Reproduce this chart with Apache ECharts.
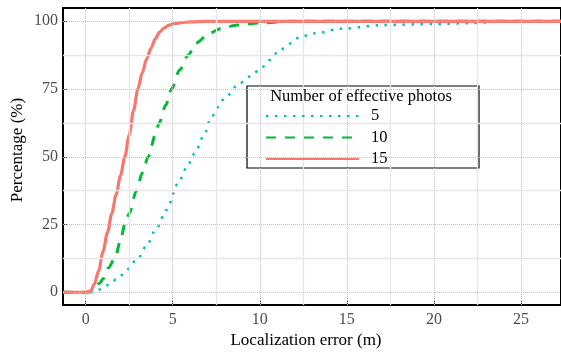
<!DOCTYPE html>
<html>
<head>
<meta charset="utf-8">
<script src="https://cdn.jsdelivr.net/npm/echarts@6/dist/echarts.min.js"></script>
<style>
  html, body { margin: 0; padding: 0; background: #fff; }
  #chart { width: 561px; height: 352px; }
</style>
</head>
<body>
<div id="chart"></div>
<script>
// tick values
const xTicks = [0, 5, 10, 15, 20, 25];
const xMinor = [2.5, 7.5, 12.5, 17.5, 22.5];
const yTicks = [0, 25, 50, 75, 100];
const yMinor = [12.5, 37.5, 62.5, 87.5];

const seriesNames = ["5", "10", "15"];

// [error (m), percentage]
const photos5 = [
  [-1.3, 0], [0, 0], [0.44, 0], [0.8, 1], [1.3, 2.7], [2.06, 6.4], [2.96, 11.9],
  [3.46, 16.8], [4.07, 23.6], [4.64, 30.4], [5.31, 40.2], [5.8, 46], [6.27, 51.3],
  [6.8, 58], [7.22, 64.8], [7.89, 71], [8.85, 77.1], [9.42, 79.6], [10.18, 83.2],
  [10.57, 85.7], [11.14, 89.4], [11.81, 91.9], [12.29, 94.3], [13.25, 95.6],
  [14.58, 97.2], [17.06, 98.6], [19.9, 99], [22, 99.3], [24.3, 100], [27.3, 100]
];
const photos10 = [
  [-1.3, 0], [0, 0], [0.3, 0.2], [0.5, 1], [0.8, 3.3], [1.0, 5], [1.3, 9],
  [1.68, 12.5], [2.0, 19], [2.25, 25], [2.5, 29], [2.92, 37.5], [3.25, 44],
  [3.6, 50], [4.0, 58], [4.22, 62.5], [4.6, 69], [4.93, 75], [5.4, 82],
  [5.88, 87.5], [6.36, 92], [7.1, 95.6], [7.8, 97.4], [8.7, 98.6], [10, 99.4],
  [12, 100], [27.3, 100]
];
const photos15 = [
  [-1.3, 0], [0, 0], [0.3, 0.5], [0.5, 3], [0.75, 8], [1.0, 15], [1.25, 22],
  [1.5, 29], [1.75, 36], [2.0, 43], [2.25, 50], [2.5, 58], [2.75, 67], [3.0, 75],
  [3.25, 81], [3.5, 86], [3.75, 90], [4.0, 93.5], [4.25, 96], [4.5, 97.5],
  [4.75, 98.5], [5, 99], [5.5, 99.5], [6, 99.8], [7, 100], [27.3, 100]
];

const serif = "Liberation Serif";
const labelStyle = { fontFamily: serif, fontSize: 16, color: "#4d4d4d" };

const majorLine = { color: "#c4c4c4", width: 1, type: "dotted" };
const minorLine = { color: "#e6e6e6", width: 1.3, type: "solid" };

const gridLines = [
  ...xMinor.map((v) => ({ xAxis: v, lineStyle: minorLine })),
  ...yMinor.map((v) => ({ yAxis: v, lineStyle: minorLine })),
  ...xTicks.map((v) => ({ xAxis: v, lineStyle: majorLine })),
  ...yTicks.map((v) => ({ yAxis: v, lineStyle: majorLine })),
];

const option = {
  animation: false,
  backgroundColor: "#fff",
  grid: {
    left: 63,
    right: -1,
    top: 8,
    bottom: 47,
    show: true,
    borderColor: "#000",
    borderWidth: 2,
  },
  xAxis: {
    type: "value",
    min: -1.3,
    max: 27.3,
    splitLine: { show: false },
    axisLine: { onZero: false, lineStyle: { color: "#000", width: 2 } },
    axisTick: {
      inside: true,
      length: 4,
      customValues: xTicks,
      lineStyle: { color: "#333", width: 1 },
    },
    axisLabel: { ...labelStyle, margin: 7, customValues: xTicks },
  },
  yAxis: {
    type: "value",
    min: -4.7,
    max: 104.9,
    splitLine: { show: false },
    axisLine: { onZero: false, lineStyle: { color: "#000", width: 2 } },
    axisTick: {
      inside: true,
      length: 4,
      customValues: yTicks,
      lineStyle: { color: "#333", width: 1 },
    },
    axisLabel: { ...labelStyle, margin: 5, customValues: yTicks },
  },
  legend: {
    data: seriesNames,
    orient: "vertical",
    left: 265,
    top: 107,
    padding: 0,
    itemWidth: 93,
    itemHeight: 16,
    itemGap: 3.5,
    selectedMode: false,
    z: 6,
    itemStyle: { opacity: 0, borderWidth: 0 },
    textStyle: {
      fontFamily: serif,
      fontSize: 16.5,
      lineHeight: 16,
      color: "#000",
      padding: [2, 0, 0, 7],
    },
  },
  graphic: [
    {
      type: "rect",
      z: 5,
      shape: { x: 247, y: 86, width: 232, height: 82 },
      style: { fill: "#fff", stroke: "#000", lineWidth: 1.2 },
    },
    {
      type: "text",
      z: 7,
      x: 361,
      y: 97,
      style: {
        text: "Number of effective photos",
        font: "16.5px " + serif,
        fill: "#000",
        align: "center",
        verticalAlign: "middle",
      },
    },
    {
      type: "text",
      x: 306,
      y: 341,
      style: {
        text: "Localization error (m)",
        font: "17px " + serif,
        fill: "#000",
        align: "center",
        verticalAlign: "middle",
      },
    },
    {
      type: "text",
      x: 18,
      y: 150,
      rotation: Math.PI / 2,
      style: {
        text: "Percentage (%)",
        font: "17px " + serif,
        fill: "#000",
        align: "center",
        verticalAlign: "middle",
      },
    },
  ],
  series: [
    {
      type: "line",
      data: [],
      silent: true,
      z: 1,
      markLine: {
        silent: true,
        symbol: "none",
        label: { show: false },
        data: gridLines,
      },
    },
    {
      name: "5",
      type: "line",
      data: photos5,
      symbol: "none",
      smooth: 0.3,
      smoothMonotone: "x",
      z: 2,
      lineStyle: { color: "#00BFC4", width: 2.5, type: [2.5, 6.5] },
      itemStyle: { color: "#00BFC4" },
    },
    {
      name: "10",
      type: "line",
      data: photos10,
      symbol: "none",
      smooth: 0.3,
      smoothMonotone: "x",
      z: 3,
      lineStyle: { color: "#00BA38", width: 3, type: [10, 9] },
      itemStyle: { color: "#00BA38" },
    },
    {
      name: "15",
      type: "line",
      data: photos15,
      symbol: "none",
      smooth: 0.3,
      smoothMonotone: "x",
      z: 4,
      lineStyle: { color: "#F8766D", width: 3.2, type: "solid" },
      itemStyle: { color: "#F8766D" },
    },
  ],
};

const chart = echarts.init(document.getElementById("chart"));
chart.setOption(option);
</script>
</body>
</html>
